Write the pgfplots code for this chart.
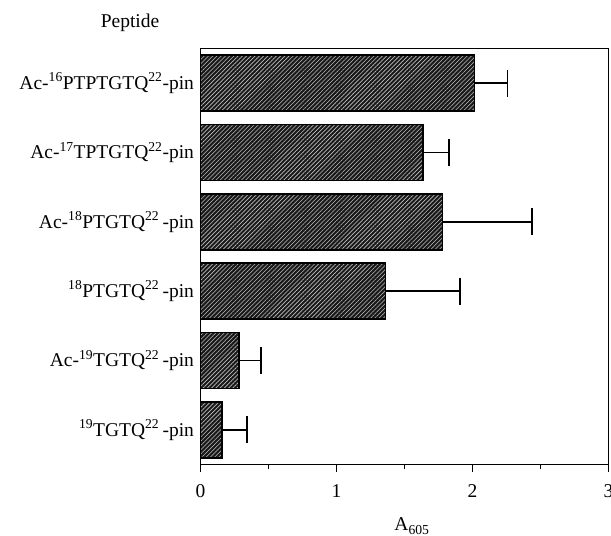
\documentclass[border=0pt]{standalone}
\usepackage{pgfplots}
\pgfplotsset{compat=1.18}
\usepackage{fontspec}
\setmainfont{Liberation Serif}
\usetikzlibrary{patterns.meta}
\newcommand{\su}[1]{\textsuperscript{#1}}
\begin{document}
\begin{tikzpicture}[font=\fontsize{19.5bp}{23bp}\selectfont]
\useasboundingbox (-200.5bp,-71.5bp) rectangle (410.5bp,464.5bp);
\begin{axis}[
  at={(0,0)}, anchor=south west,
  scale only axis, width=408bp, height=416bp,
  xmin=0, xmax=3, ymin=-0.5, ymax=5.5,
  xbar, bar width=56bp,
  axis line style={line width=1.3bp},
  every tick/.style={black, line width=1.2bp},
  tick pos=left, tick align=outside,
  major tick length=7bp, minor tick length=4bp,
  xtick={0,1,2,3}, minor xtick={0.5,1.5,2.5},
  ytick=\empty, minor ytick={0.5,1.5,2.5,3.5,4.5},
  extra y ticks={0,1,2,3,4,5},
  extra y tick labels={
    {\su{19}TGTQ\su{22}\,-pin},
    {Ac-\su{19}TGTQ\su{22}\,-pin},
    {\su{18}PTGTQ\su{22}\,-pin},
    {Ac-\su{18}PTGTQ\su{22}\,-pin},
    {Ac-\su{17}TPTGTQ\su{22}-pin},
    {Ac-\su{16}PTPTGTQ\su{22}-pin}},
  extra y tick style={major tick length=0pt},
  /pgf/number format/assume math mode=true,
  xticklabel style={yshift=-10bp},
  yticklabel style={xshift=-3bp},
  clip=false,
]
\addplot[fill=black!90, draw=black, line width=1.4bp,
  postaction={pattern={Lines[angle=45,distance=3bp,line width=0.6bp]}, pattern color=white!75!black},
  error bars/.cd, x dir=plus, x explicit, error mark=|,
  error bar style={line width=1.5bp, black, solid},
  error mark options={mark size=13.5bp, line width=1.5bp, black}]
coordinates {
  (0.159,0) +- (0.183,0)
  (0.282,1) +- (0.164,0)
  (1.362,2) +- (0.545,0)
  (1.778,3) +- (0.659,0)
  (1.635,4) +- (0.192,0)
  (2.016,5) +- (0.241,0)
};
\end{axis}
\node at (-70.5bp,441.5bp) {Peptide};
\node[anchor=base, inner sep=0pt] at (211.5bp,-66.4bp) {A\textsubscript{605}};
\end{tikzpicture}
\end{document}
